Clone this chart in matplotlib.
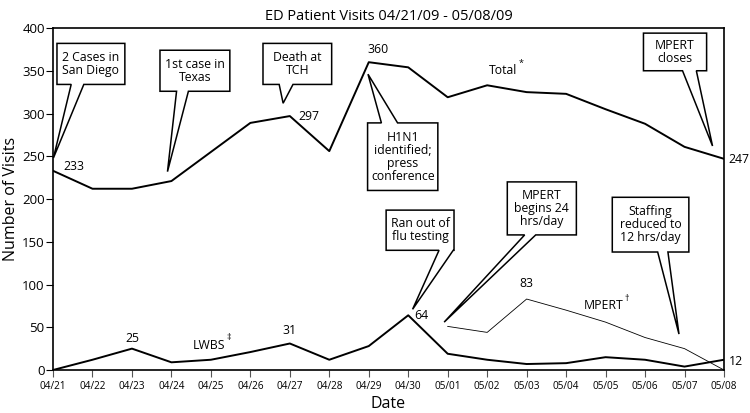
import matplotlib
matplotlib.use("Agg")
import matplotlib.pyplot as plt
from matplotlib.patches import Polygon

plt.rcParams['font.family'] = ['Open Sans', 'DejaVu Sans']

# Данные
dates = ['04/21', '04/22', '04/23', '04/24', '04/25', '04/26', '04/27', '04/28', '04/29',
         '04/30', '05/01', '05/02', '05/03', '05/04', '05/05', '05/06', '05/07', '05/08']
total = [233, 212, 212, 221, 255, 289, 297, 256, 360, 354, 319, 333, 325, 323, 305, 288, 261, 247]
lwbs = [0, 12, 25, 9, 12, 21, 31, 12, 28, 64, 19, 12, 7, 8, 15, 12, 4, 12]
mpert_dates = dates[10:]
mpert = [51, 44, 83, 70, 56, 38, 25, 0]

x = list(range(len(dates)))
xm = [dates.index(d) for d in mpert_dates]

fig = plt.figure(figsize=(7.5, 4.13), dpi=100)
ax = fig.add_axes([0.0707, 0.1041, 0.8946, 0.8281])

ax.plot(x, total, color='black', lw=1.4)
ax.plot(x, lwbs, color='black', lw=1.4)
ax.plot(xm, mpert, color='black', lw=0.6)

ax.set_xlim(0, len(dates) - 1)
ax.set_ylim(0, 400)
ax.set_xticks(x)
ax.set_xticklabels(dates, fontsize=7.2)
ax.set_yticks(range(0, 401, 50))
ax.tick_params(axis='y', labelsize=9.5, length=5, width=0.8, pad=1)
ax.tick_params(axis='x', length=5, width=0.8, pad=3, color='#555555')
for s in ax.spines.values():
    s.set_linewidth(1.2)

ax.set_xlabel('Date', fontsize=11.5, labelpad=3)
ax.set_ylabel('Number of Visits', fontsize=11.5, labelpad=2)
ax.set_title('ED Patient Visits 04/21/09 - 05/08/09', fontsize=10.5, pad=6)


def callout(bx0, bx1, by0, by1, b1, b2, tip, text, side='bottom'):
    # by0 - верх, by1 - низ
    if side == 'bottom':
        pts = [(bx0, by0), (bx1, by0), (bx1, by1), (b2, by1), tip, (b1, by1), (bx0, by1)]
    else:
        pts = [(bx0, by1), (bx0, by0), (b1, by0), tip, (b2, by0), (bx1, by0), (bx1, by1)]
    ax.add_patch(Polygon(pts, closed=True, facecolor='white', edgecolor='black',
                         lw=1.1, zorder=5, clip_on=False))
    ax.text((bx0 + bx1) / 2, (by0 + by1) / 2, text, ha='center', va='center',
            fontsize=8.8, linespacing=1.0, zorder=6)


def sup_label(xv, yv, text, mark):
    t = ax.text(xv, yv, text, ha='center', va='center', fontsize=8.8)
    ax.annotate(mark, xy=(1, 0.75), xycoords=t, xytext=(1, 0), textcoords='offset points',
                ha='left', va='bottom', fontsize=6.5)


callout(0.10, 1.82, 382, 334, 0.46, 0.78, (0.01, 248), '2 Cases in\nSan Diego')
callout(2.71, 4.48, 374, 326, 3.13, 3.43, (2.90, 232), '1st case in\nTexas')
callout(5.32, 7.06, 382, 334, 5.73, 6.08, (5.83, 312), 'Death at\nTCH')
callout(7.97, 9.75, 289, 210, 8.32, 8.73, (7.98, 346), 'H1N1\nidentified;\npress\nconference', side='top')
callout(8.44, 10.16, 187, 140, 9.78, 10.14, (9.11, 71), 'Ran out of\nflu testing')
callout(11.51, 13.26, 220, 158, 11.95, 12.23, (9.91, 56), 'MPERT\nbegins 24\nhrs/day')
callout(14.17, 16.11, 202, 138, 15.32, 15.58, (15.86, 42), 'Staffing\nreduced to\n12 hrs/day')
callout(14.96, 16.56, 394, 350, 15.95, 16.30, (16.71, 262), 'MPERT\ncloses')

fs = 8.8
ax.text(0.53, 238, '233', ha='center', va='center', fontsize=fs)
ax.text(6.49, 297, '297', ha='center', va='center', fontsize=fs)
ax.text(8.24, 375, '360', ha='center', va='center', fontsize=fs)
sup_label(11.40, 350, 'Total', '*')
ax.text(17.12, 246, '247', ha='left', va='center', fontsize=fs, clip_on=False)
ax.text(17.12, 10, '12', ha='left', va='center', fontsize=fs, clip_on=False)
ax.text(2.02, 37, '25', ha='center', va='center', fontsize=fs)
sup_label(3.95, 29, 'LWBS', '‡')
sup_label(13.95, 75, 'MPERT', '†')
ax.text(5.98, 46, '31', ha='center', va='center', fontsize=fs)
ax.text(9.33, 64, '64', ha='center', va='center', fontsize=fs)
ax.text(11.99, 101, '83', ha='center', va='center', fontsize=fs)

fig.savefig('out.png', dpi=100)
